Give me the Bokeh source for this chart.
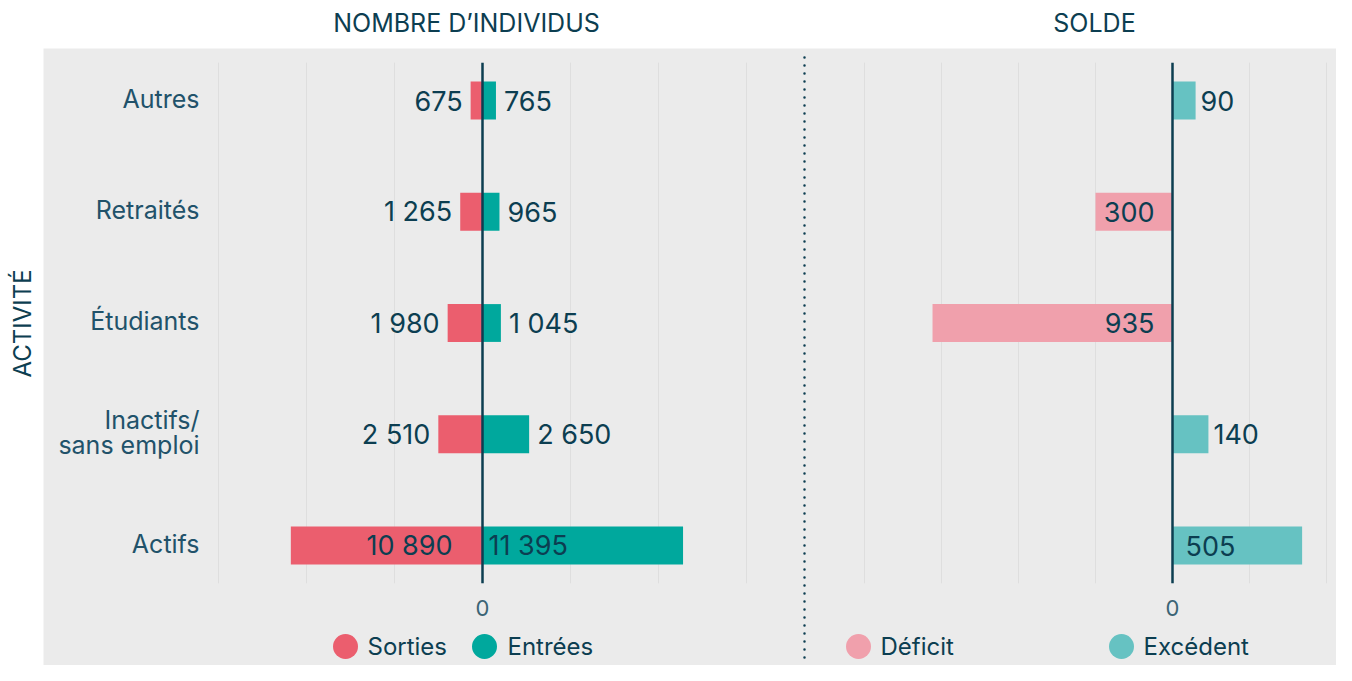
import math
from bokeh.plotting import figure
from bokeh.models import Range1d, ColumnDataSource
from bokeh.embed import file_html
from bokeh.resources import INLINE
from bokeh.core.properties import value

# ---------------- data ----------------
categories = ["Actifs", "Inactifs/\nsans emploi", "Étudiants", "Retraités", "Autres"]
sorties = [10890, 2510, 1980, 1265, 675]
entrees = [11395, 2650, 1045, 965, 765]
solde = [505, 140, -935, -300, 90]
count_ticks = [-15000, -10000, -5000, 0, 5000, 10000, 15000]
solde_ticks = [-1200, -900, -600, -300, 0, 300, 600]
zero_tick_label = "0"
panel_titles = ["NOMBRE D\u2019INDIVIDUS", "SOLDE"]
y_title = "ACTIVITÉ"
legend_left = ["Sorties", "Entrées"]
legend_right = ["Déficit", "Excédent"]

# ---------------- style / layout ----------------
FONT = value("Inter")
DARK = "#0c3e51"
CAT_COLOR = "#21526a"
TICK_COLOR = "#3b6475"
BG = "#ebebeb"
GRID = "#dedede"
RED = "#eb5e6e"
TEAL = "#00a89d"
PINK = "#f0a0ac"
LTEAL = "#66c2c2"

W, H = 1336, 665
ZERO_L = 482            # canvas px of the left panel's zero
PXL = 88 / 5000         # px per individual
ZERO_R = 1172           # canvas px of the right panel's zero
PXR = 77 / 300          # px per unit of balance
ROW_PX = 111.25         # px between categories
Y0_PX = 545             # canvas y of first category
BAR_H = 0.34
GRID_PAD = 0.34
LEGEND_Y = 646

idx = list(range(len(categories)))

p = figure(width=W, height=H,
           x_range=Range1d(-ZERO_L / PXL, (W - ZERO_L) / PXL),
           y_range=Range1d(-(H - Y0_PX) / ROW_PX, Y0_PX / ROW_PX),
           output_backend="svg", toolbar_location=None,
           x_axis_type=None, y_axis_type=None, title=None,
           min_border=0, outline_line_color=None,
           background_fill_color="white", border_fill_color="white")
p.extra_x_ranges = {"solde": Range1d(-ZERO_R / PXR, (W - ZERO_R) / PXR),
                    "px": Range1d(0, W)}
p.extra_y_ranges = {"px": Range1d(H, 0)}

# grey panel
p.quad(left=[43], right=[W], top=[48], bottom=[H], color=BG, line_color=None,
       x_range_name="px", y_range_name="px")

# grid lines
ylo, yhi = -GRID_PAD, len(categories) - 1 + GRID_PAD
p.segment(x0=count_ticks, x1=count_ticks, y0=[ylo] * len(count_ticks),
          y1=[yhi] * len(count_ticks), line_color=GRID, line_width=1)
p.segment(x0=solde_ticks, x1=solde_ticks, y0=[ylo] * len(solde_ticks),
          y1=[yhi] * len(solde_ticks), line_color=GRID, line_width=1,
          x_range_name="solde")

# separator
p.segment(x0=[804], x1=[804], y0=[57], y1=[H], line_color=DARK, line_width=2.5,
          line_dash="0 8", line_cap="round", x_range_name="px", y_range_name="px")

# bars
p.hbar(y=idx, left=[-s for s in sorties], right=0, height=BAR_H,
       color=RED, line_color=None)
p.hbar(y=idx, left=0, right=entrees, height=BAR_H, color=TEAL, line_color=None)
p.hbar(y=idx, left=[min(v, 0) for v in solde], right=[max(v, 0) for v in solde],
       height=BAR_H, color=[PINK if v < 0 else LTEAL for v in solde],
       line_color=None, x_range_name="solde")

# zero lines
p.segment(x0=[0], x1=[0], y0=[ylo], y1=[yhi], line_color=DARK, line_width=2.5)
p.segment(x0=[0], x1=[0], y0=[ylo], y1=[yhi], line_color=DARK, line_width=2.5,
          x_range_name="solde")


def fmt(v):
    return f"{abs(v):,}".replace(",", " ")


# value labels
def label_source(vals, px_per, sign, inside_off, out_off, thresh):
    xs, offs, aligns, texts = [], [], [], []
    for v in vals:
        sv = v * sign
        neg = sv < 0
        if abs(v) * px_per > thresh:
            xs.append(0)
            offs.append(inside_off[0] if neg else inside_off[1])
        else:
            xs.append(sv)
            offs.append(-out_off if neg else out_off)
        aligns.append("right" if neg else "left")
        texts.append(fmt(v))
    return ColumnDataSource(dict(x=xs, y=idx, off=offs, align=aligns, text=texts))


src_s = label_source(sorties, PXL, -1, (-30, 6), 8, 100)
src_e = label_source(entrees, PXL, 1, (-30, 6), 8, 100)
src_d = label_source(solde, PXR, 1, (-18, 13), 5, 60)
for src, rn in ((src_s, "default"), (src_e, "default"), (src_d, "solde")):
    p.text(x="x", y="y", text="text", x_offset="off", text_align="align",
           text_baseline="middle", text_color=DARK, text_font=FONT,
           text_font_size="27px", source=src, x_range_name=rn)

# category labels
p.text(x=[count_ticks[0]] * len(categories), y=idx, text=categories,
       x_offset=-19, y_offset=-2, text_align="right", text_baseline="middle",
       text_color=CAT_COLOR, text_font=FONT, text_font_size="25px",
       text_line_height=0.85)

# zero tick labels
p.text(x=[0], y=[607], text=[zero_tick_label], text_align="center",
       text_baseline="middle", text_color=TICK_COLOR, text_font=FONT,
       text_font_size="22px", y_range_name="px")
p.text(x=[0], y=[607], text=[zero_tick_label], text_align="center",
       text_baseline="middle", text_color=TICK_COLOR, text_font=FONT,
       text_font_size="22px", x_range_name="solde", y_range_name="px")

# titles
p.text(x=[466, 1094], y=[22, 22], text=panel_titles, text_align="center",
       text_baseline="middle", text_color=DARK, text_font=FONT,
       text_font_size="25px", x_range_name="px", y_range_name="px")
p.text(x=[22], y=[323], text=[y_title], angle=math.pi / 2, text_align="center",
       text_baseline="middle", text_color=DARK, text_font=FONT,
       text_font_size="24px", x_range_name="px", y_range_name="px")

# legends
leg_circle_x = [345, 484, 858, 1121]
leg_text_x = [367, 507, 880, 1143]
leg_labels = legend_left + legend_right
leg_colors = [RED, TEAL, PINK, LTEAL]
p.scatter(x=leg_circle_x, y=[LEGEND_Y] * 4, size=25, color=leg_colors,
          line_color=None, x_range_name="px", y_range_name="px")
p.text(x=leg_text_x, y=[LEGEND_Y] * 4, text=leg_labels, text_align="left",
       text_baseline="middle", text_color=DARK, text_font=FONT,
       text_font_size="24px", x_range_name="px", y_range_name="px")

open("out.html", "w").write(file_html(p, INLINE))
